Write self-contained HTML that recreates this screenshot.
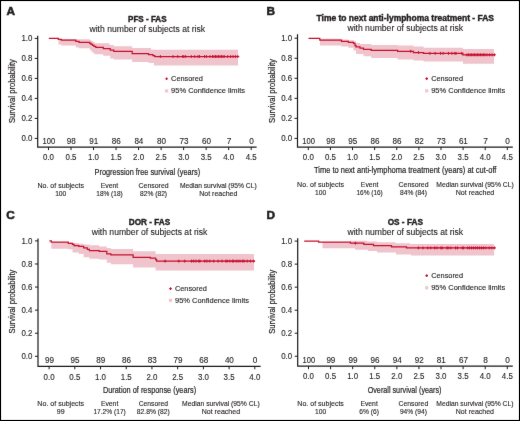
<!DOCTYPE html>
<html><head><meta charset="utf-8"><style>
html,body{margin:0;padding:0;background:#fff;}
svg{display:block;will-change:transform;}
text{font-family:"Liberation Sans",sans-serif;fill:#231f20;stroke:#231f20;stroke-width:0.12px;}
</style></head><body>
<svg width="520" height="421" viewBox="0 0 520 421">
<defs><filter id="bl" x="0" y="0" width="100%" height="100%" color-interpolation-filters="sRGB"><feConvolveMatrix order="3" kernelMatrix="0.0050 0.0450 0.0050 0.0450 0.8000 0.0450 0.0050 0.0450 0.0050" edgeMode="duplicate" preserveAlpha="true"/></filter></defs>
<g filter="url(#bl)">
<rect x="0" y="0" width="520" height="421" fill="#fff"/>
<text x="6.6" y="14.9" font-size="11.8" font-weight="bold" fill="#000" stroke="#000" style="stroke-width:0.55px">A</text>
<text x="147.3" y="22" font-size="8.4" text-anchor="middle" textLength="38.6" lengthAdjust="spacingAndGlyphs" font-weight="bold" fill="#000" stroke="#000" style="stroke-width:0.4px">PFS - FAS</text>
<text x="147.3" y="31.9" font-size="8.5" text-anchor="middle" textLength="115.6" lengthAdjust="spacingAndGlyphs">with number of subjects at risk</text>
<path d="M58.5 39 L75.8 39 L75.8 39.3 L89.8 39.3 L89.8 40.3 L91.5 40.3 L91.5 41.2 L93.2 41.2 L93.2 42.2 L95 42.2 L95 43.2 L109.5 43.2 L109.5 45.1 L113.8 45.1 L113.8 46.3 L132.2 46.3 L132.2 47.9 L151 47.9 L151 49.7 L238 49.7 L238 65.6 L154 65.6 L154 63.1 L148.6 63.1 L148.6 62.1 L132.2 62.1 L132.2 59.5 L113.8 59.5 L113.8 58.6 L110.2 58.6 L110.2 55.7 L103.3 55.7 L103.3 54.2 L95 54.2 L95 53.5 L93.2 53.5 L93.2 52 L91.5 52 L91.5 50 L89.8 50 L89.8 48.2 L79 48.2 L79 47.4 L75.8 47.4 L75.8 45.5 L61.3 45.5 L61.3 44.5 L58.5 44.5Z" fill="#efc4cc"/>
<path d="M48.8 38.4H58.3V39.25H61.4V40.2H75.8V41.4H79V42.3H89.8V43.3H91V44.3H92.5V45.3H94V46.3H95.8V47.3H103.3V48.5H110.2V50.1H113.8V51.4H132.2V53.5H148.6V54.5H152.9V55.5H154.8V56.5H238.7" fill="none" stroke="#c8102e" stroke-width="1.25"/>
<path d="M160.4 55v3M158.9 56.5h3M173.1 55v3M171.6 56.5h3M177.7 55v3M176.2 56.5h3M182.7 55v3M181.2 56.5h3M183.8 55v3M182.3 56.5h3M185.6 55v3M184.1 56.5h3M191.3 55v3M189.8 56.5h3M194.7 55v3M193.2 56.5h3M198 55v3M196.5 56.5h3M199.5 55v3M198 56.5h3M204.6 55v3M203.1 56.5h3M206.5 55v3M205 56.5h3M209.9 55v3M208.4 56.5h3M212.5 55v3M211 56.5h3M214 55v3M212.5 56.5h3M215.5 55v3M214 56.5h3M217 55v3M215.5 56.5h3M218.5 55v3M217 56.5h3M220 55v3M218.5 56.5h3M221.5 55v3M220 56.5h3M223 55v3M221.5 56.5h3M224.3 55v3M222.8 56.5h3M227.7 55v3M226.2 56.5h3M230.6 55v3M229.1 56.5h3M233 55v3M231.5 56.5h3M235.4 55v3M233.9 56.5h3M237.8 55v3M236.3 56.5h3" fill="none" stroke="#c8102e" stroke-width="0.9"/>
<path d="M37.7 35.8V147.1H256.6" fill="none" stroke="#1a1a1a" stroke-width="1.2"/>
<path d="M34.7 38.4H37.7M34.7 58.4H37.7M34.7 78.4H37.7M34.7 98.4H37.7M34.7 118.4H37.7M34.7 138.4H37.7M48.5 147.1V150.1M71.02 147.1V150.1M93.54 147.1V150.1M116.07 147.1V150.1M138.59 147.1V150.1M161.11 147.1V150.1M183.63 147.1V150.1M206.16 147.1V150.1M228.68 147.1V150.1M251.2 147.1V150.1" fill="none" stroke="#1a1a1a" stroke-width="1"/>
<text x="32.4" y="41.15" font-size="8.4" text-anchor="end" textLength="11" lengthAdjust="spacingAndGlyphs">1.0</text>
<text x="32.4" y="61.15" font-size="8.4" text-anchor="end" textLength="11" lengthAdjust="spacingAndGlyphs">0.8</text>
<text x="32.4" y="81.15" font-size="8.4" text-anchor="end" textLength="11" lengthAdjust="spacingAndGlyphs">0.6</text>
<text x="32.4" y="101.15" font-size="8.4" text-anchor="end" textLength="11" lengthAdjust="spacingAndGlyphs">0.4</text>
<text x="32.4" y="121.15" font-size="8.4" text-anchor="end" textLength="11" lengthAdjust="spacingAndGlyphs">0.2</text>
<text x="32.4" y="141.15" font-size="8.4" text-anchor="end" textLength="11" lengthAdjust="spacingAndGlyphs">0.0</text>
<text transform="translate(14.5 91.1) rotate(-90)" font-size="8.6" style="stroke-width:0.2px" text-anchor="middle" textLength="64" lengthAdjust="spacingAndGlyphs">Survival probability</text>
<text x="48.8" y="144.2" font-size="8.2" text-anchor="middle" textLength="12.6" lengthAdjust="spacingAndGlyphs">100</text>
<text x="71.32" y="144.2" font-size="8.2" text-anchor="middle" textLength="9" lengthAdjust="spacingAndGlyphs">98</text>
<text x="93.84" y="144.2" font-size="8.2" text-anchor="middle" textLength="9" lengthAdjust="spacingAndGlyphs">91</text>
<text x="116.37" y="144.2" font-size="8.2" text-anchor="middle" textLength="9" lengthAdjust="spacingAndGlyphs">86</text>
<text x="138.89" y="144.2" font-size="8.2" text-anchor="middle" textLength="9" lengthAdjust="spacingAndGlyphs">84</text>
<text x="161.41" y="144.2" font-size="8.2" text-anchor="middle" textLength="9" lengthAdjust="spacingAndGlyphs">80</text>
<text x="183.93" y="144.2" font-size="8.2" text-anchor="middle" textLength="9" lengthAdjust="spacingAndGlyphs">73</text>
<text x="206.46" y="144.2" font-size="8.2" text-anchor="middle" textLength="9" lengthAdjust="spacingAndGlyphs">60</text>
<text x="228.98" y="144.2" font-size="8.2" text-anchor="middle" textLength="4.6" lengthAdjust="spacingAndGlyphs">7</text>
<text x="251.5" y="144.2" font-size="8.2" text-anchor="middle" textLength="4.6" lengthAdjust="spacingAndGlyphs">0</text>
<text x="48.5" y="160.3" font-size="8.4" text-anchor="middle" textLength="11" lengthAdjust="spacingAndGlyphs">0.0</text>
<text x="71.02" y="160.3" font-size="8.4" text-anchor="middle" textLength="11" lengthAdjust="spacingAndGlyphs">0.5</text>
<text x="93.54" y="160.3" font-size="8.4" text-anchor="middle" textLength="11" lengthAdjust="spacingAndGlyphs">1.0</text>
<text x="116.07" y="160.3" font-size="8.4" text-anchor="middle" textLength="11" lengthAdjust="spacingAndGlyphs">1.5</text>
<text x="138.59" y="160.3" font-size="8.4" text-anchor="middle" textLength="11" lengthAdjust="spacingAndGlyphs">2.0</text>
<text x="161.11" y="160.3" font-size="8.4" text-anchor="middle" textLength="11" lengthAdjust="spacingAndGlyphs">2.5</text>
<text x="183.63" y="160.3" font-size="8.4" text-anchor="middle" textLength="11" lengthAdjust="spacingAndGlyphs">3.0</text>
<text x="206.16" y="160.3" font-size="8.4" text-anchor="middle" textLength="11" lengthAdjust="spacingAndGlyphs">3.5</text>
<text x="228.68" y="160.3" font-size="8.4" text-anchor="middle" textLength="11" lengthAdjust="spacingAndGlyphs">4.0</text>
<text x="251.2" y="160.3" font-size="8.4" text-anchor="middle" textLength="11" lengthAdjust="spacingAndGlyphs">4.5</text>
<text x="147.35" y="174.8" font-size="9.9" text-anchor="middle" textLength="105.5" lengthAdjust="spacingAndGlyphs" style="stroke-width:0.22px">Progression free survival (years)</text>
<path d="M165.3 78.8h2.6M166.6 77.5v2.6" stroke="#c8102e" stroke-width="1.1"/>
<rect x="165" y="89.3" width="3.2" height="3.2" fill="#f2c6cd"/>
<text x="171.1" y="81" font-size="7.2" textLength="31.8" lengthAdjust="spacingAndGlyphs">Censored</text>
<text x="171.1" y="93.1" font-size="7.2" textLength="74" lengthAdjust="spacingAndGlyphs">95% Confidence limits</text>
<text x="60.75" y="187.6" font-size="7.2" text-anchor="middle" textLength="46.6" lengthAdjust="spacingAndGlyphs">No. of subjects</text>
<text x="60.75" y="195.7" font-size="7.2" text-anchor="middle" textLength="11.2" lengthAdjust="spacingAndGlyphs">100</text>
<text x="109.5" y="187.6" font-size="7.2" text-anchor="middle" textLength="17.6" lengthAdjust="spacingAndGlyphs">Event</text>
<text x="109.5" y="195.7" font-size="7.2" text-anchor="middle" textLength="26.4" lengthAdjust="spacingAndGlyphs">18% (18)</text>
<text x="153.6" y="187.6" font-size="7.2" text-anchor="middle" textLength="30" lengthAdjust="spacingAndGlyphs">Censored</text>
<text x="153.6" y="195.7" font-size="7.2" text-anchor="middle" textLength="27" lengthAdjust="spacingAndGlyphs">82% (82)</text>
<text x="218.3" y="187.6" font-size="7.2" text-anchor="middle" textLength="76.8" lengthAdjust="spacingAndGlyphs">Median survival (95% CL)</text>
<text x="218.3" y="195.7" font-size="7.2" text-anchor="middle" textLength="38.2" lengthAdjust="spacingAndGlyphs">Not reached</text>
<text x="266.6" y="15" font-size="11.8" font-weight="bold" fill="#000" stroke="#000" style="stroke-width:0.55px">B</text>
<text x="405.25" y="20.8" font-size="8.4" text-anchor="middle" textLength="177.5" lengthAdjust="spacingAndGlyphs" font-weight="bold" fill="#000" stroke="#000" style="stroke-width:0.4px">Time to next anti-lymphoma treatment - FAS</text>
<text x="405.25" y="30.7" font-size="8.5" text-anchor="middle" textLength="115.6" lengthAdjust="spacingAndGlyphs">with number of subjects at risk</text>
<path d="M320 38.8 L341.5 38.8 L341.5 39.6 L348.4 39.6 L348.4 40.2 L354 40.2 L354 41.2 L356 41.2 L356 42.9 L360 42.9 L360 44 L371.2 44 L371.2 45 L397.6 45 L397.6 45.6 L413.5 45.6 L413.5 46.6 L423.6 46.6 L423.6 47.8 L463 47.8 L463 49 L494 49 L494 63.7 L463 63.7 L463 61.5 L423.6 61.5 L423.6 60.6 L413.5 60.6 L413.5 59.4 L397.6 59.4 L397.6 58 L371.2 58 L371.2 56.2 L363.5 56.2 L363.5 54 L356 54 L356 50.5 L353.5 50.5 L353.5 47.8 L348.4 47.8 L348.4 46.5 L341.5 46.5 L341.5 45.5 L320 45.5Z" fill="#efc4cc"/>
<path d="M308.5 38.3H319.8V40.2H341.5V41.25H348.4V42.4H353.5V43.4H355V45.6H356V46.8H360V48.2H363.5V49.3H371.2V50.3H397.6V51.3H413.5V52.5H423.6V53.4H462.9V54.8H494.8" fill="none" stroke="#c8102e" stroke-width="1.25"/>
<path d="M410.7 49.8v3M409.2 51.3h3M418.5 51v3M417 52.5h3M429.9 51.9v3M428.4 53.4h3M435.2 51.9v3M433.7 53.4h3M440.5 51.9v3M439 53.4h3M443.1 51.9v3M441.6 53.4h3M448.5 51.9v3M447 53.4h3M451.9 51.9v3M450.4 53.4h3M454.8 51.9v3M453.3 53.4h3M456 51.9v3M454.5 53.4h3M461.7 51.9v3M460.2 53.4h3M466.9 53.3v3M465.4 54.8h3M468.5 53.3v3M467 54.8h3M470 53.3v3M468.5 54.8h3M471.5 53.3v3M470 54.8h3M473 53.3v3M471.5 54.8h3M474.5 53.3v3M473 54.8h3M476 53.3v3M474.5 54.8h3M477.5 53.3v3M476 54.8h3M479 53.3v3M477.5 54.8h3M480.5 53.3v3M479 54.8h3M482 53.3v3M480.5 54.8h3M483.5 53.3v3M482 54.8h3M485 53.3v3M483.5 54.8h3M487 53.3v3M485.5 54.8h3M489.5 53.3v3M488 54.8h3M492 53.3v3M490.5 54.8h3M494.5 53.3v3M493 54.8h3" fill="none" stroke="#c8102e" stroke-width="0.9"/>
<path d="M297.5 34.3V147.1H512.8" fill="none" stroke="#1a1a1a" stroke-width="1.2"/>
<path d="M294.5 38.2H297.5M294.5 58.24H297.5M294.5 78.28H297.5M294.5 98.32H297.5M294.5 118.36H297.5M294.5 138.4H297.5M308.3 147.1V150.1M330.41 147.1V150.1M352.52 147.1V150.1M374.63 147.1V150.1M396.74 147.1V150.1M418.86 147.1V150.1M440.97 147.1V150.1M463.08 147.1V150.1M485.19 147.1V150.1M507.3 147.1V150.1" fill="none" stroke="#1a1a1a" stroke-width="1"/>
<text x="292.2" y="40.95" font-size="8.4" text-anchor="end" textLength="11" lengthAdjust="spacingAndGlyphs">1.0</text>
<text x="292.2" y="60.99" font-size="8.4" text-anchor="end" textLength="11" lengthAdjust="spacingAndGlyphs">0.8</text>
<text x="292.2" y="81.03" font-size="8.4" text-anchor="end" textLength="11" lengthAdjust="spacingAndGlyphs">0.6</text>
<text x="292.2" y="101.07" font-size="8.4" text-anchor="end" textLength="11" lengthAdjust="spacingAndGlyphs">0.4</text>
<text x="292.2" y="121.11" font-size="8.4" text-anchor="end" textLength="11" lengthAdjust="spacingAndGlyphs">0.2</text>
<text x="292.2" y="141.15" font-size="8.4" text-anchor="end" textLength="11" lengthAdjust="spacingAndGlyphs">0.0</text>
<text transform="translate(274.5 90.9) rotate(-90)" font-size="8.6" style="stroke-width:0.2px" text-anchor="middle" textLength="64" lengthAdjust="spacingAndGlyphs">Survival probability</text>
<text x="308.6" y="144.2" font-size="8.2" text-anchor="middle" textLength="12.6" lengthAdjust="spacingAndGlyphs">100</text>
<text x="330.71" y="144.2" font-size="8.2" text-anchor="middle" textLength="9" lengthAdjust="spacingAndGlyphs">98</text>
<text x="352.82" y="144.2" font-size="8.2" text-anchor="middle" textLength="9" lengthAdjust="spacingAndGlyphs">95</text>
<text x="374.93" y="144.2" font-size="8.2" text-anchor="middle" textLength="9" lengthAdjust="spacingAndGlyphs">86</text>
<text x="397.04" y="144.2" font-size="8.2" text-anchor="middle" textLength="9" lengthAdjust="spacingAndGlyphs">86</text>
<text x="419.16" y="144.2" font-size="8.2" text-anchor="middle" textLength="9" lengthAdjust="spacingAndGlyphs">82</text>
<text x="441.27" y="144.2" font-size="8.2" text-anchor="middle" textLength="9" lengthAdjust="spacingAndGlyphs">73</text>
<text x="463.38" y="144.2" font-size="8.2" text-anchor="middle" textLength="9" lengthAdjust="spacingAndGlyphs">61</text>
<text x="485.49" y="144.2" font-size="8.2" text-anchor="middle" textLength="4.6" lengthAdjust="spacingAndGlyphs">7</text>
<text x="507.6" y="144.2" font-size="8.2" text-anchor="middle" textLength="4.6" lengthAdjust="spacingAndGlyphs">0</text>
<text x="308.3" y="160.3" font-size="8.4" text-anchor="middle" textLength="11" lengthAdjust="spacingAndGlyphs">0.0</text>
<text x="330.41" y="160.3" font-size="8.4" text-anchor="middle" textLength="11" lengthAdjust="spacingAndGlyphs">0.5</text>
<text x="352.52" y="160.3" font-size="8.4" text-anchor="middle" textLength="11" lengthAdjust="spacingAndGlyphs">1.0</text>
<text x="374.63" y="160.3" font-size="8.4" text-anchor="middle" textLength="11" lengthAdjust="spacingAndGlyphs">1.5</text>
<text x="396.74" y="160.3" font-size="8.4" text-anchor="middle" textLength="11" lengthAdjust="spacingAndGlyphs">2.0</text>
<text x="418.86" y="160.3" font-size="8.4" text-anchor="middle" textLength="11" lengthAdjust="spacingAndGlyphs">2.5</text>
<text x="440.97" y="160.3" font-size="8.4" text-anchor="middle" textLength="11" lengthAdjust="spacingAndGlyphs">3.0</text>
<text x="463.08" y="160.3" font-size="8.4" text-anchor="middle" textLength="11" lengthAdjust="spacingAndGlyphs">3.5</text>
<text x="485.19" y="160.3" font-size="8.4" text-anchor="middle" textLength="11" lengthAdjust="spacingAndGlyphs">4.0</text>
<text x="507.3" y="160.3" font-size="8.4" text-anchor="middle" textLength="11" lengthAdjust="spacingAndGlyphs">4.5</text>
<text x="405.2" y="173.1" font-size="9.9" text-anchor="middle" textLength="182.5" lengthAdjust="spacingAndGlyphs" style="stroke-width:0.22px">Time to next anti-lymphoma treatment (years) at cut-off</text>
<path d="M425.4 78.6h2.6M426.7 77.3v2.6" stroke="#c8102e" stroke-width="1.1"/>
<rect x="425.1" y="89.2" width="3.2" height="3.2" fill="#f2c6cd"/>
<text x="431.2" y="80.8" font-size="7.2" textLength="31.8" lengthAdjust="spacingAndGlyphs">Censored</text>
<text x="431.2" y="93" font-size="7.2" textLength="74" lengthAdjust="spacingAndGlyphs">95% Confidence limits</text>
<text x="320.55" y="186.8" font-size="7.2" text-anchor="middle" textLength="46.9" lengthAdjust="spacingAndGlyphs">No. of subjects</text>
<text x="320.55" y="194.9" font-size="7.2" text-anchor="middle" textLength="11.2" lengthAdjust="spacingAndGlyphs">100</text>
<text x="369.6" y="186.8" font-size="7.2" text-anchor="middle" textLength="17.6" lengthAdjust="spacingAndGlyphs">Event</text>
<text x="369.6" y="194.9" font-size="7.2" text-anchor="middle" textLength="26.4" lengthAdjust="spacingAndGlyphs">16% (16)</text>
<text x="413.55" y="186.8" font-size="7.2" text-anchor="middle" textLength="30" lengthAdjust="spacingAndGlyphs">Censored</text>
<text x="413.55" y="194.9" font-size="7.2" text-anchor="middle" textLength="27" lengthAdjust="spacingAndGlyphs">84% (84)</text>
<text x="475" y="186.8" font-size="7.2" text-anchor="middle" textLength="77.3" lengthAdjust="spacingAndGlyphs">Median survival (95% CL)</text>
<text x="475" y="194.9" font-size="7.2" text-anchor="middle" textLength="38.6" lengthAdjust="spacingAndGlyphs">Not reached</text>
<text x="6.3" y="219" font-size="11.8" font-weight="bold" fill="#000" stroke="#000" style="stroke-width:0.55px">C</text>
<text x="149.5" y="224.9" font-size="8.4" text-anchor="middle" textLength="41.4" lengthAdjust="spacingAndGlyphs" font-weight="bold" fill="#000" stroke="#000" style="stroke-width:0.4px">DOR - FAS</text>
<text x="149.5" y="235.1" font-size="8.5" text-anchor="middle" textLength="115.6" lengthAdjust="spacingAndGlyphs">with number of subjects at risk</text>
<path d="M51.3 242 L68.3 242 L68.3 242.4 L72.5 242.4 L72.5 243 L78.8 243 L78.8 243.8 L83.6 243.8 L83.6 244.6 L89.4 244.6 L89.4 245.3 L99.2 245.3 L99.2 246.6 L106.8 246.6 L106.8 247.9 L110.9 247.9 L110.9 249 L133.1 249 L133.1 251.2 L155.6 251.2 L155.6 253.9 L254 253.9 L254 270.6 L155.6 270.6 L155.6 267.5 L133.1 267.5 L133.1 264.3 L110.9 264.3 L110.9 262.7 L106.8 262.7 L106.8 259.6 L99.2 259.6 L99.2 258.8 L89.4 258.8 L89.4 257.2 L83.6 257.2 L83.6 254 L78.8 254 L78.8 252.5 L72.5 252.5 L72.5 249.3 L68.3 249.3 L68.3 248.75 L51.3 248.75Z" fill="#efc4cc"/>
<path d="M49.4 240.9H51.3V242.2H68.3V243.25H72.5V244.4H74V245.6H78.8V246.4H83.6V247.9H87.3V249.3H89.4V250.5H99.2V251.4H106.8V253.75H110.9V254.8H133.1V257.3H150.3V258.2H155.6V259.6H156.6V261.1H254.9" fill="none" stroke="#c8102e" stroke-width="1.25"/>
<path d="M165.1 259.6v3M163.6 261.1h3M178.8 259.6v3M177.3 261.1h3M184.7 259.6v3M183.2 261.1h3M191.5 259.6v3M190 261.1h3M193.6 259.6v3M192.1 261.1h3M196 259.6v3M194.5 261.1h3M198.9 259.6v3M197.4 261.1h3M199.9 259.6v3M198.4 261.1h3M204.7 259.6v3M203.2 261.1h3M206.9 259.6v3M205.4 261.1h3M209.8 259.6v3M208.3 261.1h3M213.7 259.6v3M212.2 261.1h3M218.2 259.6v3M216.7 261.1h3M222 259.6v3M220.5 261.1h3M225.9 259.6v3M224.4 261.1h3M227.2 259.6v3M225.7 261.1h3M229.8 259.6v3M228.3 261.1h3M232.4 259.6v3M230.9 261.1h3M233.7 259.6v3M232.2 261.1h3M236.2 259.6v3M234.7 261.1h3M238.2 259.6v3M236.7 261.1h3M240.1 259.6v3M238.6 261.1h3M242.7 259.6v3M241.2 261.1h3M244 259.6v3M242.5 261.1h3M247.2 259.6v3M245.7 261.1h3M250.4 259.6v3M248.9 261.1h3M253.6 259.6v3M252.1 261.1h3" fill="none" stroke="#c8102e" stroke-width="0.9"/>
<path d="M38 238.6V366.3H260.6" fill="none" stroke="#1a1a1a" stroke-width="1.2"/>
<path d="M35 240.9H38M35 263.98H38M35 287.06H38M35 310.14H38M35 333.22H38M35 356.3H38M49.1 366.3V369.3M74.81 366.3V369.3M100.53 366.3V369.3M126.24 366.3V369.3M151.95 366.3V369.3M177.66 366.3V369.3M203.38 366.3V369.3M229.09 366.3V369.3M254.8 366.3V369.3" fill="none" stroke="#1a1a1a" stroke-width="1"/>
<text x="32.4" y="243.65" font-size="8.4" text-anchor="end" textLength="11" lengthAdjust="spacingAndGlyphs">1.0</text>
<text x="32.4" y="266.73" font-size="8.4" text-anchor="end" textLength="11" lengthAdjust="spacingAndGlyphs">0.8</text>
<text x="32.4" y="289.81" font-size="8.4" text-anchor="end" textLength="11" lengthAdjust="spacingAndGlyphs">0.6</text>
<text x="32.4" y="312.89" font-size="8.4" text-anchor="end" textLength="11" lengthAdjust="spacingAndGlyphs">0.4</text>
<text x="32.4" y="335.97" font-size="8.4" text-anchor="end" textLength="11" lengthAdjust="spacingAndGlyphs">0.2</text>
<text x="32.4" y="359.05" font-size="8.4" text-anchor="end" textLength="11" lengthAdjust="spacingAndGlyphs">0.0</text>
<text transform="translate(14.5 301.6) rotate(-90)" font-size="8.6" style="stroke-width:0.2px" text-anchor="middle" textLength="64" lengthAdjust="spacingAndGlyphs">Survival probability</text>
<text x="49.4" y="363.3" font-size="8.2" text-anchor="middle" textLength="9" lengthAdjust="spacingAndGlyphs">99</text>
<text x="75.11" y="363.3" font-size="8.2" text-anchor="middle" textLength="9" lengthAdjust="spacingAndGlyphs">95</text>
<text x="100.83" y="363.3" font-size="8.2" text-anchor="middle" textLength="9" lengthAdjust="spacingAndGlyphs">89</text>
<text x="126.54" y="363.3" font-size="8.2" text-anchor="middle" textLength="9" lengthAdjust="spacingAndGlyphs">86</text>
<text x="152.25" y="363.3" font-size="8.2" text-anchor="middle" textLength="9" lengthAdjust="spacingAndGlyphs">83</text>
<text x="177.96" y="363.3" font-size="8.2" text-anchor="middle" textLength="9" lengthAdjust="spacingAndGlyphs">79</text>
<text x="203.68" y="363.3" font-size="8.2" text-anchor="middle" textLength="9" lengthAdjust="spacingAndGlyphs">68</text>
<text x="229.39" y="363.3" font-size="8.2" text-anchor="middle" textLength="9" lengthAdjust="spacingAndGlyphs">40</text>
<text x="255.1" y="363.3" font-size="8.2" text-anchor="middle" textLength="4.6" lengthAdjust="spacingAndGlyphs">0</text>
<text x="49.1" y="379.6" font-size="8.4" text-anchor="middle" textLength="11" lengthAdjust="spacingAndGlyphs">0.0</text>
<text x="74.81" y="379.6" font-size="8.4" text-anchor="middle" textLength="11" lengthAdjust="spacingAndGlyphs">0.5</text>
<text x="100.53" y="379.6" font-size="8.4" text-anchor="middle" textLength="11" lengthAdjust="spacingAndGlyphs">1.0</text>
<text x="126.24" y="379.6" font-size="8.4" text-anchor="middle" textLength="11" lengthAdjust="spacingAndGlyphs">1.5</text>
<text x="151.95" y="379.6" font-size="8.4" text-anchor="middle" textLength="11" lengthAdjust="spacingAndGlyphs">2.0</text>
<text x="177.66" y="379.6" font-size="8.4" text-anchor="middle" textLength="11" lengthAdjust="spacingAndGlyphs">2.5</text>
<text x="203.38" y="379.6" font-size="8.4" text-anchor="middle" textLength="11" lengthAdjust="spacingAndGlyphs">3.0</text>
<text x="229.09" y="379.6" font-size="8.4" text-anchor="middle" textLength="11" lengthAdjust="spacingAndGlyphs">3.5</text>
<text x="254.8" y="379.6" font-size="8.4" text-anchor="middle" textLength="11" lengthAdjust="spacingAndGlyphs">4.0</text>
<text x="149.5" y="392.75" font-size="9.9" text-anchor="middle" textLength="93.2" lengthAdjust="spacingAndGlyphs" style="stroke-width:0.22px">Duration of response (years)</text>
<path d="M169.2 288.6h2.6M170.5 287.3v2.6" stroke="#c8102e" stroke-width="1.1"/>
<rect x="168.9" y="298.7" width="3.2" height="3.2" fill="#f2c6cd"/>
<text x="175" y="290.8" font-size="7.2" textLength="31.8" lengthAdjust="spacingAndGlyphs">Censored</text>
<text x="175" y="302.5" font-size="7.2" textLength="74" lengthAdjust="spacingAndGlyphs">95% Confidence limits</text>
<text x="60.75" y="405.9" font-size="7.2" text-anchor="middle" textLength="46.8" lengthAdjust="spacingAndGlyphs">No. of subjects</text>
<text x="60.75" y="413.6" font-size="7.2" text-anchor="middle" textLength="7.8" lengthAdjust="spacingAndGlyphs">99</text>
<text x="109.6" y="405.9" font-size="7.2" text-anchor="middle" textLength="17.4" lengthAdjust="spacingAndGlyphs">Event</text>
<text x="109.6" y="413.6" font-size="7.2" text-anchor="middle" textLength="32.4" lengthAdjust="spacingAndGlyphs">17.2% (17)</text>
<text x="153.3" y="405.9" font-size="7.2" text-anchor="middle" textLength="29.3" lengthAdjust="spacingAndGlyphs">Censored</text>
<text x="153.3" y="413.6" font-size="7.2" text-anchor="middle" textLength="33" lengthAdjust="spacingAndGlyphs">82.8% (82)</text>
<text x="220.9" y="405.9" font-size="7.2" text-anchor="middle" textLength="77.6" lengthAdjust="spacingAndGlyphs">Median survival (95% CL)</text>
<text x="220.9" y="413.6" font-size="7.2" text-anchor="middle" textLength="38.4" lengthAdjust="spacingAndGlyphs">Not reached</text>
<text x="266.6" y="218.9" font-size="11.8" font-weight="bold" fill="#000" stroke="#000" style="stroke-width:0.55px">D</text>
<text x="405.3" y="225.2" font-size="8.4" text-anchor="middle" textLength="35.2" lengthAdjust="spacingAndGlyphs" font-weight="bold" fill="#000" stroke="#000" style="stroke-width:0.4px">OS - FAS</text>
<text x="405.3" y="235.1" font-size="8.5" text-anchor="middle" textLength="115.6" lengthAdjust="spacingAndGlyphs">with number of subjects at risk</text>
<path d="M322.5 242 L350.4 242 L350.4 240.8 L367 240.8 L367 241.5 L377 241.5 L377 242.2 L395.5 242.2 L395.5 243.3 L410 243.3 L410 244.1 L494.1 244.1 L494.1 255.4 L411 255.4 L411 254.5 L396 254.5 L396 252.5 L377 252.5 L377 251 L368 251 L368 249.8 L355 249.8 L355 248.3 L322.5 248.3Z" fill="#efc4cc"/>
<path d="M304.2 241.1H318.6V242H350.4V243.2H363.8V244.3H373.5V245.6H391.5V246.8H406.5V247.95H495.2" fill="none" stroke="#c8102e" stroke-width="1.25"/>
<path d="M355.4 241.7v3M353.9 243.2h3M418.5 246.4v3M417 247.9h3M423 246.4v3M421.5 247.9h3M427.7 246.4v3M426.2 247.9h3M430.8 246.4v3M429.3 247.9h3M434.6 246.4v3M433.1 247.9h3M436.9 246.4v3M435.4 247.9h3M440.8 246.4v3M439.3 247.9h3M442.3 246.4v3M440.8 247.9h3M446.9 246.4v3M445.4 247.9h3M448.1 246.4v3M446.6 247.9h3M450.8 246.4v3M449.3 247.9h3M455.5 246.4v3M454 247.9h3M457.5 246.4v3M456 247.9h3M462.2 246.4v3M460.7 247.9h3M463.6 246.4v3M462.1 247.9h3M467.6 246.4v3M466.1 247.9h3M469.5 246.4v3M468 247.9h3M471.5 246.4v3M470 247.9h3M473.5 246.4v3M472 247.9h3M475.5 246.4v3M474 247.9h3M477.5 246.4v3M476 247.9h3M479.5 246.4v3M478 247.9h3M481.5 246.4v3M480 247.9h3M483.5 246.4v3M482 247.9h3M485.8 246.4v3M484.3 247.9h3M489.1 246.4v3M487.6 247.9h3M491.8 246.4v3M490.3 247.9h3M494.5 246.4v3M493 247.9h3" fill="none" stroke="#c8102e" stroke-width="0.9"/>
<path d="M297.7 238.2V366.2H512.8" fill="none" stroke="#1a1a1a" stroke-width="1.2"/>
<path d="M294.7 241.1H297.7M294.7 264.13H297.7M294.7 287.16H297.7M294.7 310.19H297.7M294.7 333.22H297.7M294.7 356.25H297.7M308.5 366.2V369.2M330.59 366.2V369.2M352.68 366.2V369.2M374.77 366.2V369.2M396.86 366.2V369.2M418.94 366.2V369.2M441.03 366.2V369.2M463.12 366.2V369.2M485.21 366.2V369.2M507.3 366.2V369.2" fill="none" stroke="#1a1a1a" stroke-width="1"/>
<text x="292.2" y="243.85" font-size="8.4" text-anchor="end" textLength="11" lengthAdjust="spacingAndGlyphs">1.0</text>
<text x="292.2" y="266.88" font-size="8.4" text-anchor="end" textLength="11" lengthAdjust="spacingAndGlyphs">0.8</text>
<text x="292.2" y="289.91" font-size="8.4" text-anchor="end" textLength="11" lengthAdjust="spacingAndGlyphs">0.6</text>
<text x="292.2" y="312.94" font-size="8.4" text-anchor="end" textLength="11" lengthAdjust="spacingAndGlyphs">0.4</text>
<text x="292.2" y="335.97" font-size="8.4" text-anchor="end" textLength="11" lengthAdjust="spacingAndGlyphs">0.2</text>
<text x="292.2" y="359" font-size="8.4" text-anchor="end" textLength="11" lengthAdjust="spacingAndGlyphs">0.0</text>
<text transform="translate(274.5 301.8) rotate(-90)" font-size="8.6" style="stroke-width:0.2px" text-anchor="middle" textLength="64" lengthAdjust="spacingAndGlyphs">Survival probability</text>
<text x="308.8" y="363.1" font-size="8.2" text-anchor="middle" textLength="12.6" lengthAdjust="spacingAndGlyphs">100</text>
<text x="330.89" y="363.1" font-size="8.2" text-anchor="middle" textLength="9" lengthAdjust="spacingAndGlyphs">99</text>
<text x="352.98" y="363.1" font-size="8.2" text-anchor="middle" textLength="9" lengthAdjust="spacingAndGlyphs">99</text>
<text x="375.07" y="363.1" font-size="8.2" text-anchor="middle" textLength="9" lengthAdjust="spacingAndGlyphs">96</text>
<text x="397.16" y="363.1" font-size="8.2" text-anchor="middle" textLength="9" lengthAdjust="spacingAndGlyphs">94</text>
<text x="419.24" y="363.1" font-size="8.2" text-anchor="middle" textLength="9" lengthAdjust="spacingAndGlyphs">92</text>
<text x="441.33" y="363.1" font-size="8.2" text-anchor="middle" textLength="9" lengthAdjust="spacingAndGlyphs">81</text>
<text x="463.42" y="363.1" font-size="8.2" text-anchor="middle" textLength="9" lengthAdjust="spacingAndGlyphs">67</text>
<text x="485.51" y="363.1" font-size="8.2" text-anchor="middle" textLength="4.6" lengthAdjust="spacingAndGlyphs">8</text>
<text x="507.6" y="363.1" font-size="8.2" text-anchor="middle" textLength="4.6" lengthAdjust="spacingAndGlyphs">0</text>
<text x="308.5" y="379.4" font-size="8.4" text-anchor="middle" textLength="11" lengthAdjust="spacingAndGlyphs">0.0</text>
<text x="330.59" y="379.4" font-size="8.4" text-anchor="middle" textLength="11" lengthAdjust="spacingAndGlyphs">0.5</text>
<text x="352.68" y="379.4" font-size="8.4" text-anchor="middle" textLength="11" lengthAdjust="spacingAndGlyphs">1.0</text>
<text x="374.77" y="379.4" font-size="8.4" text-anchor="middle" textLength="11" lengthAdjust="spacingAndGlyphs">1.5</text>
<text x="396.86" y="379.4" font-size="8.4" text-anchor="middle" textLength="11" lengthAdjust="spacingAndGlyphs">2.0</text>
<text x="418.94" y="379.4" font-size="8.4" text-anchor="middle" textLength="11" lengthAdjust="spacingAndGlyphs">2.5</text>
<text x="441.03" y="379.4" font-size="8.4" text-anchor="middle" textLength="11" lengthAdjust="spacingAndGlyphs">3.0</text>
<text x="463.12" y="379.4" font-size="8.4" text-anchor="middle" textLength="11" lengthAdjust="spacingAndGlyphs">3.5</text>
<text x="485.21" y="379.4" font-size="8.4" text-anchor="middle" textLength="11" lengthAdjust="spacingAndGlyphs">4.0</text>
<text x="507.3" y="379.4" font-size="8.4" text-anchor="middle" textLength="11" lengthAdjust="spacingAndGlyphs">4.5</text>
<text x="404.55" y="392.5" font-size="9.9" text-anchor="middle" textLength="73.8" lengthAdjust="spacingAndGlyphs" style="stroke-width:0.22px">Overall survival (years)</text>
<path d="M425.4 275.6h2.6M426.7 274.3v2.6" stroke="#c8102e" stroke-width="1.1"/>
<rect x="425.1" y="286.2" width="3.2" height="3.2" fill="#f2c6cd"/>
<text x="431.2" y="277.8" font-size="7.2" textLength="31.8" lengthAdjust="spacingAndGlyphs">Censored</text>
<text x="431.2" y="290" font-size="7.2" textLength="74" lengthAdjust="spacingAndGlyphs">95% Confidence limits</text>
<text x="320.6" y="405.9" font-size="7.2" text-anchor="middle" textLength="46.6" lengthAdjust="spacingAndGlyphs">No. of subjects</text>
<text x="320.6" y="413.9" font-size="7.2" text-anchor="middle" textLength="11.2" lengthAdjust="spacingAndGlyphs">100</text>
<text x="369.1" y="405.9" font-size="7.2" text-anchor="middle" textLength="17.4" lengthAdjust="spacingAndGlyphs">Event</text>
<text x="369.1" y="413.9" font-size="7.2" text-anchor="middle" textLength="19.6" lengthAdjust="spacingAndGlyphs">6% (6)</text>
<text x="413.4" y="405.9" font-size="7.2" text-anchor="middle" textLength="29.6" lengthAdjust="spacingAndGlyphs">Censored</text>
<text x="413.4" y="413.9" font-size="7.2" text-anchor="middle" textLength="27" lengthAdjust="spacingAndGlyphs">94% (94)</text>
<text x="474.9" y="405.9" font-size="7.2" text-anchor="middle" textLength="77.2" lengthAdjust="spacingAndGlyphs">Median survival (95% CL)</text>
<text x="474.9" y="413.9" font-size="7.2" text-anchor="middle" textLength="38.2" lengthAdjust="spacingAndGlyphs">Not reached</text>
</g>
<rect x="0.5" y="0.5" width="519" height="420" fill="none" stroke="#000" stroke-width="1.2"/>
</svg>
</body></html>
